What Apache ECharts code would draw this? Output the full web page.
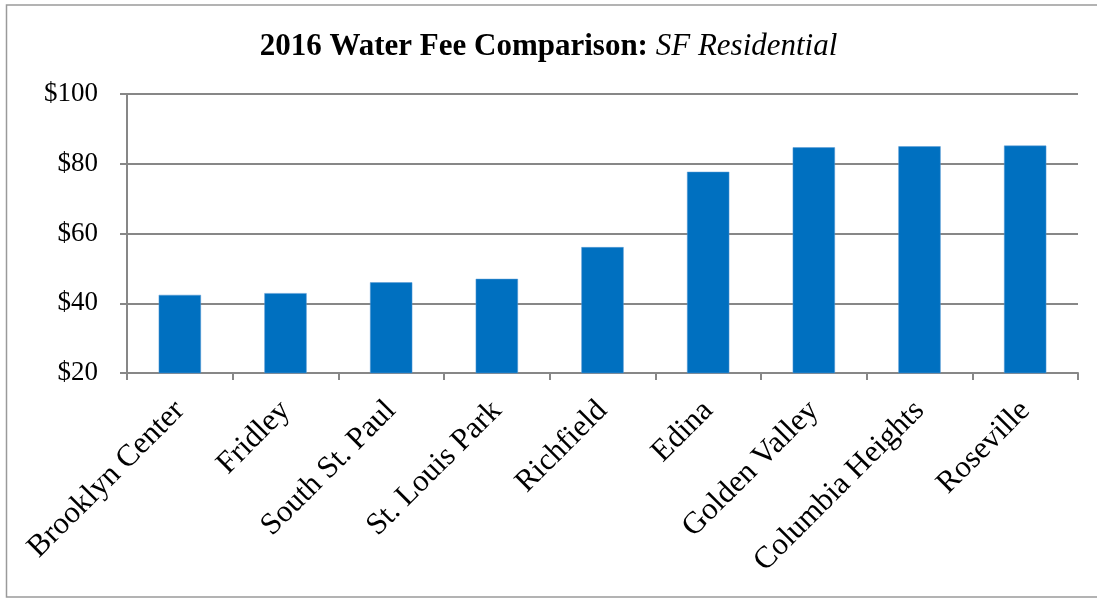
<!DOCTYPE html>
<html>
<head>
<meta charset="utf-8">
<script src="https://cdn.jsdelivr.net/npm/echarts@6/dist/echarts.min.js"></script>
<style>
  html, body { margin: 0; padding: 0; background: #fff; }
  #echart { width: 1097px; height: 600px; }
</style>
</head>
<body>
<div id="echart"></div>
<script>
var cities = ['Brooklyn Center', 'Fridley', 'South St. Paul', 'St. Louis Park', 'Richfield',
              'Edina', 'Golden Valley', 'Columbia Heights', 'Roseville'];
var fees = [42.4, 42.9, 46.0, 47.0, 56.1, 77.7, 84.7, 85.0, 85.2];
var yTicks = [20, 40, 60, 80, 100];

var myChart = echarts.init(document.getElementById('echart'));
var grey = '#878787';
var serif = '"Liberation Serif", "Times New Roman", serif';

var option = {
  animation: false,
  backgroundColor: '#fff',
  textStyle: { fontFamily: serif, color: '#000' },
  title: {
    text: '{b|2016 Water Fee Comparison:} {i|SF Residential}',
    left: 'center',
    top: 26,
    textStyle: {
      fontSize: 31,
      rich: {
        b: { fontFamily: serif, fontWeight: 'bold', fontSize: 31, color: '#000' },
        i: { fontFamily: serif, fontStyle: 'italic', fontWeight: 'normal', fontSize: 31, color: '#000' }
      }
    }
  },
  // outer chart frame
  graphic: [{
    type: 'rect',
    shape: { x: 6.5, y: 5, width: 1100, height: 592 },
    style: { fill: null, stroke: '#9a9a9a', lineWidth: 1.5 },
    silent: true
  }],
  grid: { left: 127, right: 19, top: 94, bottom: 227 },
  xAxis: {
    type: 'category',
    data: cities,
    boundaryGap: true,
    axisLine: { lineStyle: { color: grey, width: 2 } },
    axisTick: { show: true, alignWithLabel: false, length: 7, lineStyle: { color: grey, width: 2 } },
    axisLabel: {
      rotate: 45,
      interval: 0,
      margin: 33,
      fontFamily: serif,
      fontSize: 31,
      color: '#000'
    }
  },
  yAxis: {
    type: 'value',
    min: yTicks[0],
    max: yTicks[yTicks.length - 1],
    interval: 20,
    axisLine: { show: true, lineStyle: { color: grey, width: 2 } },
    axisTick: { show: true, length: 7, lineStyle: { color: grey, width: 2 } },
    splitLine: { lineStyle: { color: grey, width: 2 } },
    axisLabel: {
      margin: 29,
      fontFamily: serif,
      fontSize: 27,
      color: '#000',
      formatter: function (v) { return '$' + v; }
    }
  },
  series: [{
    name: 'Fee',
    type: 'bar',
    data: fees,
    barWidth: '40%',
    itemStyle: { color: '#0070c0', borderColor: '#5b9bd5', borderWidth: 0.5 }
  }]
};

myChart.setOption(option);
</script>
</body>
</html>
